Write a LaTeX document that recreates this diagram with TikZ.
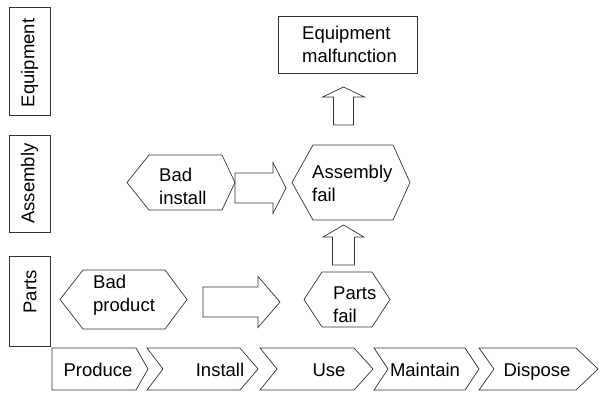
\documentclass[tikz,border=0pt]{standalone}
\usepackage{fontspec}
\setmainfont{Liberation Sans}
\usetikzlibrary{calc}

% hexagon: name, left tip x, top-left x, top-right x, right tip x, top y, bottom y
\newcommand\hexblock[7]{%
  \draw[outline] (#2,{(#6+#7)/2}) -- (#3,#6) -- (#4,#6) -- (#5,{(#6+#7)/2})
    -- (#4,#7) -- (#3,#7) -- cycle;
  \coordinate (#1) at ({(#2+#5)/2},{(#6+#7)/2});
}
% process chevron on the bottom bar: name, left x, notch x, body right x, tip x
\newcommand\chevron[5]{%
  \draw[outline] (#2,348) -- (#4,348) -- (#5,369) -- (#4,390) -- (#2,390)
    -- (#3,369) -- cycle;
  \coordinate (#1) at ({(#3+#4)/2},369);
}
% block arrow pointing right: tail x, head base x, tip x, centre y, body half, head half
\newcommand\blockright[6]{%
  \draw[outline] (#1,{#4-#5}) -- (#2,{#4-#5}) -- (#2,{#4-#6}) -- (#3,#4)
    -- (#2,{#4+#6}) -- (#2,{#4+#5}) -- (#1,{#4+#5}) -- cycle;
}
% block arrow pointing up: tail y, head base y, tip y, centre x, body half, head half
\newcommand\blockup[6]{%
  \draw[outline] ({#4-#5},#1) -- ({#4-#5},#2) -- ({#4-#6},#2) -- (#4,#3)
    -- ({#4+#6},#2) -- ({#4+#5},#2) -- ({#4+#5},#1) -- cycle;
}

\begin{document}
\begin{tikzpicture}[x=1pt,y=-1pt,
  outline/.style={draw=black!80, line width=0.7pt, line join=miter},
  lbl/.style={font=\fontsize{18.5}{23}\selectfont, inner sep=0pt, align=left},
  side/.style={font=\fontsize{18.5}{22}\selectfont, inner sep=0pt, rotate=90},
  levelbox/.style={outline, minimum width=41pt, inner sep=0pt}]
\useasboundingbox (0,0) rectangle (600,392);

% level boxes on the left
\node[levelbox, minimum height=108pt] (eqbox) at (29.5,61) {};
\node[levelbox, minimum height=97pt]  (asbox) at (29.5,183.5) {};
\node[levelbox, minimum height=90pt]  (ptbox) at (30,301) {};
\node[side] (eqlbl) at (29.5,63) {Equipment};
\node[side] (aslbl) at (29.5,183.5) {Assembly};
\node[side] (ptlbl) at (30,292) {Parts};

% top result box
\node[outline, minimum width=139pt, minimum height=57pt, inner sep=0pt] (em) at (347.5,44.5) {};
\node[lbl, anchor=west] (emtxt) at (302,44) {Equipment\\malfunction};

% hexagonal events
\hexblock{bp}{60}{83}{165}{187}{270}{329}
\hexblock{bi}{127}{149}{222}{235}{155}{210}
\hexblock{af}{292}{313}{393}{410}{145}{220}
\hexblock{pf}{304}{322}{372}{390}{272}{327}
\node[lbl, anchor=west] (bptxt) at (93,295) {Bad\\product};
\node[lbl, anchor=west] (bitxt) at (159,186) {Bad\\install};
\node[lbl, anchor=west] (aftxt) at (312,183) {Assembly\\fail};
\node[lbl, anchor=west] (pftxt) at (333,305) {Parts\\fail};

% block arrows between events
\blockright{203}{258}{280}{302}{15}{25.5}
\blockright{235}{273}{286}{188}{15}{25.5}
\blockup{265}{237}{225}{343.5}{11}{20.5}
\blockup{125}{97}{87}{343.5}{10}{21}

% life-cycle bar
\chevron{cprod}{52}{52}{136}{148}
\chevron{cinst}{147}{163}{240}{258}
\chevron{cuse}{260}{277}{354}{373}
\chevron{cmaint}{374}{388}{465}{479}
\chevron{cdisp}{479}{494}{576}{598}
\node[lbl, anchor=base] (tprod) at (98,376) {Produce};
\node[lbl, anchor=base] (tinst) at (220,376) {Install};
\node[lbl, anchor=base] (tuse) at (329,376) {Use};
\node[lbl, anchor=base] (tmaint) at (425,376) {Maintain};
\node[lbl, anchor=base] (tdisp) at (537,376) {Dispose};
\end{tikzpicture}
\end{document}
